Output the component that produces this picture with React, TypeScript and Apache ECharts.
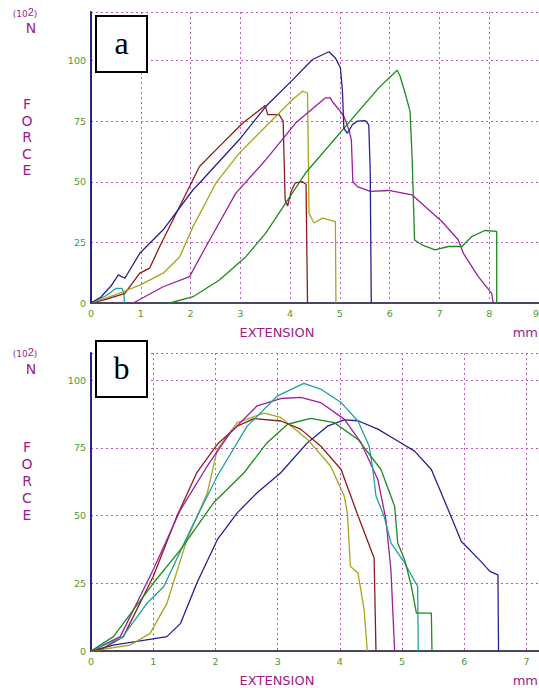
import React, { useEffect, useRef } from "react";
import * as echarts from "echarts";

// ---------- Panel a data: [extension mm, force 10^2 N] ----------
const aBlue = [[0,0],[0.2,2.5],[0.4,7],[0.55,11.6],[0.68,10.2],[0.98,20.5],[1.45,30.2],[2.05,46.7],[2.18,49.5],[2.98,67.4],[3.51,81],[4.05,92],[4.45,100.4],[4.78,103.6],[4.91,101],[5.01,97],[5.05,88],[5.08,72],[5.15,70],[5.25,73.5],[5.35,75],[5.51,75.2],[5.58,73.5],[5.61,53.7],[5.63,0]];
const aRed = [[0,0],[0.3,1.5],[0.68,4],[0.98,12.3],[1.18,14.4],[1.38,23.3],[1.78,39.8],[2.18,56.3],[2.58,64.6],[3.05,74.2],[3.5,81.4],[3.55,77.7],[3.78,77.7],[3.86,75],[3.9,42.6],[3.95,40],[4.02,46],[4.1,49.5],[4.25,50],[4.32,49],[4.35,0]];
const aOlive = [[0,0],[0.5,3.5],[0.98,7.4],[1.45,12.3],[1.78,19],[2.05,31.5],[2.51,49.5],[2.98,61.8],[3.51,72.8],[4.05,83.9],[4.25,87.3],[4.35,86.6],[4.38,37],[4.48,33],[4.65,35],[4.91,33.6],[4.92,0]];
const aPurple = [[0.85,0],[1.45,6.7],[1.98,10.9],[2.31,23.3],[2.91,45.3],[3.51,59],[4.11,74.2],[4.71,84.6],[4.81,84.6],[4.85,83],[4.98,79.8],[5.08,77],[5.18,71.5],[5.23,67.4],[5.26,50.1],[5.35,48],[5.61,46],[5.98,46.4],[6.45,44.6],[6.71,39.8],[7.05,33.6],[7.38,26],[7.48,20.5],[7.78,10.9],[8.05,4],[8.08,0]];
const aGreen = [[1.58,0],[2.05,2.6],[2.58,9.5],[3.11,19.1],[3.51,28.8],[3.91,41.2],[4.31,53.6],[5.78,88.7],[6.15,96],[6.21,93.5],[6.31,86.6],[6.41,79],[6.45,60.5],[6.5,26],[6.65,24],[6.91,21.9],[7.18,23.3],[7.45,23.3],[7.65,27.4],[7.91,29.9],[8.15,29.5],[8.15,0]];
const aTeal = [[0,0],[0.3,3],[0.5,6],[0.62,6],[0.66,4],[0.67,0]];

// ---------- Panel b data ----------
const bNavy = [[0,0],[0.36,2.2],[1.22,5.3],[1.44,10.2],[1.7,25],[2.03,41.1],[2.35,51],[2.67,58.4],[3.05,65.8],[3.48,76.9],[3.8,83],[4.07,85.3],[4.29,85],[4.61,81.9],[4.93,77.5],[5.2,73.8],[5.47,67],[5.74,52.2],[5.95,40.5],[6.27,33],[6.41,29.4],[6.54,28.1],[6.55,0]];
const bRed = [[0,0],[0.2,1],[0.52,5.3],[1.0,27.5],[1.38,49.7],[1.7,65.8],[2.03,76.3],[2.35,83],[2.62,85.8],[3.05,84.9],[3.37,81.9],[3.69,75.7],[4.02,67],[4.29,50],[4.55,34.3],[4.58,0]];
const bOlive = [[0,0],[0.63,2.2],[0.95,6.5],[1.22,17.6],[1.54,41],[1.87,58.4],[2.03,74.4],[2.35,84.3],[2.78,87.8],[3.05,86.2],[3.48,78.1],[3.85,68.3],[4.07,57.2],[4.12,51],[4.17,31.2],[4.29,28.8],[4.39,15.2],[4.44,0]];
const bMagenta = [[0,0],[0.47,5.3],[1.0,30],[1.44,52.2],[1.87,68.3],[2.24,80.6],[2.67,90.5],[3.05,93.2],[3.37,93.6],[3.69,91.7],[4.07,85.6],[4.34,76.9],[4.61,63.3],[4.74,48.5],[4.82,30],[4.88,0]];
const bTeal = [[0,0],[0.5,5],[0.9,17.6],[1.17,23.8],[1.6,44.8],[2.03,64.6],[2.51,83],[3.0,94.2],[3.42,98.8],[3.69,96.7],[4.02,91.7],[4.29,84.9],[4.47,75.7],[4.53,67],[4.58,57.2],[4.71,49.7],[4.82,39.9],[5.04,32.5],[5.25,23.8],[5.26,0]];
const bGreen = [[0,0],[0.36,5.3],[1.0,25],[1.44,37.4],[1.97,54.7],[2.46,65.8],[2.83,76.9],[3.16,83.7],[3.53,85.9],[3.91,84.3],[4.29,78.1],[4.66,67],[4.88,53.4],[4.93,39.9],[5.04,33.7],[5.15,23.8],[5.23,14],[5.47,14],[5.48,0]];

const C = {
  navy: "#23238f",
  red: "#8e1b1b",
  olive: "#a8a41c",
  purple: "#9c1f9c",
  green: "#1f8a1f",
  teal: "#1fa0a0",
};
const GRID_COL = "#c355c3";
const TICK_COL = "#4f9a30";
const TITLE_COL = "#9c1c8c";

export default function App() {
  const ref = useRef<HTMLDivElement>(null);
  useEffect(() => {
    if (!ref.current) return;
    const chart = echarts.init(ref.current, undefined, { renderer: "svg" });

    const splitLine = { show: true, lineStyle: { color: GRID_COL, type: [2, 3], width: 1 } };
    const axisLine = { show: true, onZero: false, lineStyle: { color: C.navy, width: 2 } };
    const tickLabel = (fmt: (v: number) => string, extra: any = {}) => ({
      color: TICK_COL,
      fontSize: 9.5,
      fontFamily: "DejaVu Sans",
      margin: 5,
      formatter: fmt,
      ...extra,
    });
    const intOnly = (v: number) => (Math.abs(v - Math.round(v)) < 1e-6 ? String(Math.round(v)) : "");
    const q25 = (v: number) => (v % 25 === 0 ? String(v) : "");

    const mkX = (gi: number, max: number) => ({
      type: "value",
      gridIndex: gi,
      min: 0,
      max,
      interval: 1,
      axisLine,
      axisTick: { show: false },
      splitLine,
      axisLabel: tickLabel(intOnly, { alignMaxLabel: "right" }),
    });
    const mkTop = (gi: number, max: number) => ({
      type: "value",
      gridIndex: gi,
      position: "top",
      min: 0,
      max,
      interval: 1,
      axisLine: { show: true, lineStyle: { color: "#555", width: 1.5 } },
      axisTick: { show: false },
      axisLabel: { show: false },
      splitLine: { show: false },
    });
    const mkY = (gi: number, max: number) => ({
      type: "value",
      gridIndex: gi,
      min: 0,
      max,
      interval: 25,
      axisLine,
      axisTick: { show: false },
      splitLine,
      axisLabel: tickLabel(q25),
    });

    const line = (data: number[][], color: string, gi: number) => ({
      type: "line",
      xAxisIndex: gi * 2,
      yAxisIndex: gi,
      data,
      showSymbol: false,
      symbol: "none",
      smooth: false,
      lineStyle: { color, width: 1.3 },
      z: 3,
    });

    const txt = (x: number, y: number, text: string, size = 12, extra: any = {}) => ({
      type: "text",
      x,
      y,
      z: 10,
      style: {
        text,
        fill: TITLE_COL,
        fontSize: size,
        fontFamily: "DejaVu Sans",
        align: "center",
        verticalAlign: "middle",
        ...extra,
      },
    });

    const force = (x: number, y0: number, step: number) =>
      "FORCE".split("").map((ch, i) => txt(x, y0 + i * step, ch, 14));

    const sup = (x: number, y: number) => ({
      type: "text",
      x,
      y,
      z: 10,
      style: {
        text: "(10{s|2})",
        fill: TITLE_COL,
        fontSize: 9,
        fontFamily: "DejaVu Sans",
        align: "center",
        verticalAlign: "middle",
        rich: { s: { fontSize: 11, fill: TITLE_COL, verticalAlign: "top", padding: [0, 0, 4, 0] } },
      },
    });

    const box = (x: number, y: number, label: string) => ({
      type: "group",
      z: 20,
      children: [
        { type: "rect", shape: { x, y, width: 51, height: 56 }, style: { fill: "#fff", stroke: "#000", lineWidth: 2 }, z: 20 },
        {
          type: "text",
          x: x + 25.5,
          y: y + 27,
          z: 21,
          style: { text: label, fill: "#000", fontSize: 32, fontFamily: "Liberation Serif", align: "center", verticalAlign: "middle" },
        },
      ],
    });

    chart.setOption({
      animation: false,
      backgroundColor: "#fff",
      grid: [
        { left: 91, top: 12, width: 448, height: 291, containLabel: false, outerBoundsMode: "none" },
        { left: 91, top: 353, width: 448, height: 298, containLabel: false, outerBoundsMode: "none" },
      ],
      xAxis: [mkX(0, 9), mkTop(0, 9), mkX(1, 7.2), mkTop(1, 7.2)],
      yAxis: [mkY(0, 120), mkY(1, 110)],
      series: [
        line(aTeal, C.teal, 0),
        line(aRed, C.red, 0),
        line(aOlive, C.olive, 0),
        line(aPurple, C.purple, 0),
        line(aGreen, C.green, 0),
        line(aBlue, C.navy, 0),
        line(bNavy, C.navy, 1),
        line(bOlive, C.olive, 1),
        line(bRed, C.red, 1),
        line(bMagenta, C.purple, 1),
        line(bTeal, C.teal, 1),
        line(bGreen, C.green, 1),
      ],
      graphic: [
        sup(25, 14),
        txt(31, 28, "N", 14),
        ...force(27, 104, 16.5),
        txt(277, 332, "EXTENSION", 13),
        txt(538, 332, "mm", 13, { align: "right" }),
        sup(25, 354),
        txt(31, 369, "N", 14),
        ...force(27, 447, 17),
        txt(277, 680, "EXTENSION", 13),
        txt(538, 680, "mm", 13, { align: "right" }),
        box(96, 16, "a"),
        box(96, 341, "b"),
      ],
    });
    return () => chart.dispose();
  }, []);
  return (
    <div
      ref={ref}
      style={{ position: "absolute", left: 0, top: 0, width: 539, height: 688 }}
    />
  );
}
